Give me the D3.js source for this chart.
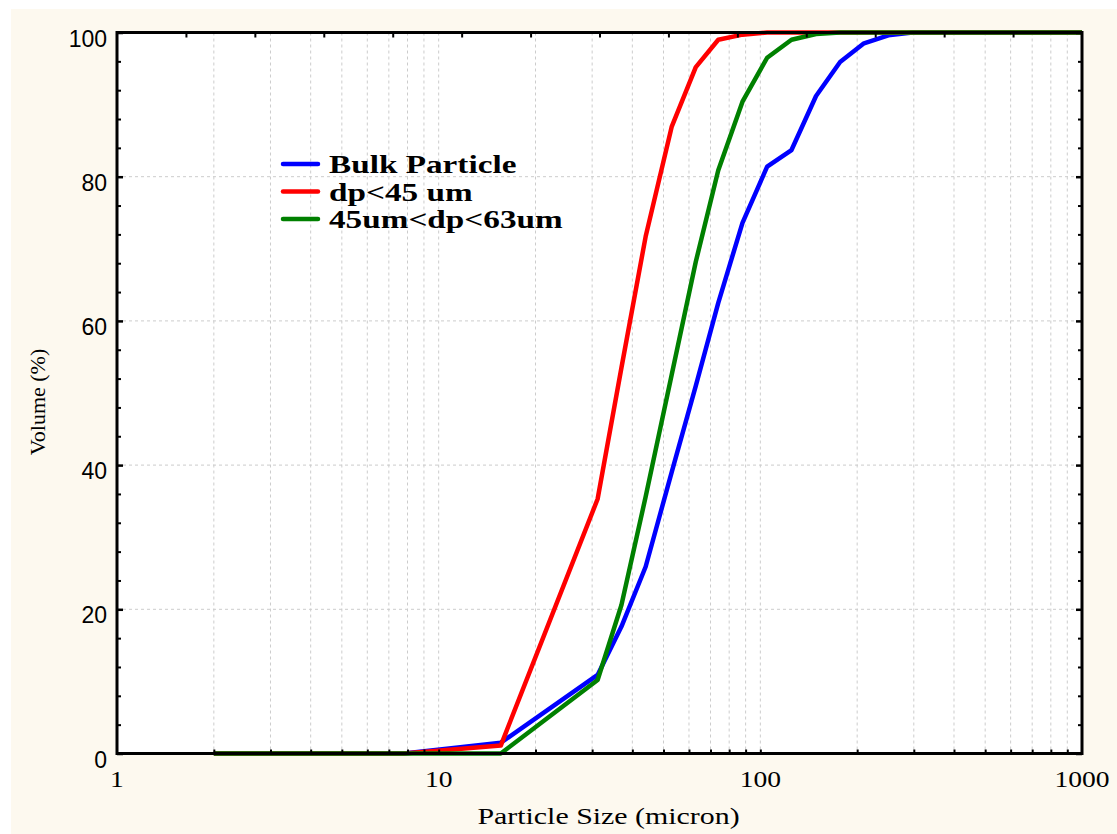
<!DOCTYPE html>
<html>
<head>
<meta charset="utf-8">
<script src="https://cdn.jsdelivr.net/npm/d3@7"></script>
<style>
  body { margin: 0; background: #fff; }
</style>
</head>
<body>
<div id="viz"></div>
<script>
// particle sizes (micron)
const sizes = [2, 3.9, 7.8, 15.6, 31.2, 37, 44, 53, 63, 74, 88, 105, 125, 149, 177, 210, 250, 297, 354, 420, 500, 595, 707, 841, 1000];

// cumulative volume (%)
const bulk  = [0, 0, 0, 1.5, 10.9, 17.6, 25.9, 39, 51, 62.5, 73.6, 81.4, 83.7, 91.2, 95.9, 98.5, 99.6, 100, 100, 100, 100, 100, 100, 100, 100];
const fine  = [0, 0, 0, 1.1, 35.3, 53.5, 71.7, 86.9, 95.2, 99, 99.7, 100, 100, 100, 100, 100, 100, 100, 100, 100, 100, 100, 100, 100, 100];
const mid   = [0, 0, 0, 0, 10.2, 20.6, 35.6, 52.5, 68.2, 80.9, 90.4, 96.5, 99, 99.8, 100, 100, 100, 100, 100, 100, 100, 100, 100, 100, 100];

const seriesNames = ["Bulk Particle", "dp<45 um", "45um<dp<63um"];
const seriesColors = ["#0000ff", "#ff0000", "#008000"];
const seriesValues = [bulk, fine, mid];

const xTicks = [1, 10, 100, 1000];
const yTicks = [0, 20, 40, 60, 80, 100];

const W = 1117, H = 834;
const margin = {left: 117, top: 32.5, right: 35, bottom: 80.5};
const w = W - margin.left - margin.right;
const h = H - margin.top - margin.bottom;

const svg = d3.select('#viz')
  .append('svg')
  .attr('width', W)
  .attr('height', H);

// cream page
svg.append('rect')
  .attr('x', 11).attr('y', 9)
  .attr('width', W - 11).attr('height', H - 9)
  .attr('fill', '#fdf9ef');

const g = svg.append('g')
  .attr('transform', `translate(${margin.left},${margin.top})`);

g.append('rect')
  .attr('width', w).attr('height', h)
  .attr('fill', '#fff');

const xScale = d3.scaleLog()
  .domain([1, 1000])
  .range([0, w]);

const yScale = d3.scaleLinear()
  .domain([0, 100])
  .range([h, 0]);

// minor log positions 2..9, 20..90, 200..900 plus 10, 100
const logMinor = xScale.ticks().filter(d => d > 1 && d < 1000);

//gridlines
g.selectAll('line.vgrid')
  .data(logMinor)
  .enter()
  .append('line')
  .classed('vgrid', true)
  .attr('x1', d => xScale(d)).attr('x2', d => xScale(d))
  .attr('y1', 0).attr('y2', h)
  .attr('stroke', '#cccccc')
  .attr('stroke-width', 1)
  .attr('stroke-dasharray', '3,3');

g.selectAll('line.hgrid')
  .data(yTicks.filter(d => d > 0 && d < 100))
  .enter()
  .append('line')
  .classed('hgrid', true)
  .attr('x1', 0).attr('x2', w)
  .attr('y1', d => yScale(d)).attr('y2', d => yScale(d))
  .attr('stroke', '#cccccc')
  .attr('stroke-width', 1)
  .attr('stroke-dasharray', '3,3');

// curves
const line = d3.line()
  .x((d, i) => xScale(sizes[i]))
  .y(d => yScale(d));

g.selectAll('path.curve')
  .data(seriesValues)
  .enter()
  .append('path')
  .classed('curve', true)
  .attr('d', line)
  .attr('fill', 'none')
  .attr('stroke', (d, i) => seriesColors[i])
  .attr('stroke-width', 4.5)
  .attr('stroke-linejoin', 'round');

// frame
g.append('rect')
  .attr('width', w).attr('height', h)
  .attr('fill', 'none')
  .attr('stroke', '#000')
  .attr('stroke-width', 3);

// axes with inward ticks
const yMinor = d3.range(0, 101, 4).filter(d => d % 20 !== 0);

g.append('g')
  .call(d3.axisLeft(yScale).tickValues(yTicks).tickSize(-6).tickFormat(''))
  .call(a => a.select('.domain').remove())
  .call(a => a.selectAll('line').attr('stroke-width', 2.5));
g.append('g')
  .call(d3.axisLeft(yScale).tickValues(yMinor).tickSize(-4).tickFormat(''))
  .call(a => a.select('.domain').remove())
  .call(a => a.selectAll('line').attr('stroke-width', 2));
g.append('g')
  .attr('transform', `translate(${w},0)`)
  .call(d3.axisRight(yScale).tickValues(yTicks).tickSize(-6).tickFormat(''))
  .call(a => a.select('.domain').remove())
  .call(a => a.selectAll('line').attr('stroke-width', 2.5));
g.append('g')
  .attr('transform', `translate(${w},0)`)
  .call(d3.axisRight(yScale).tickValues(yMinor).tickSize(-4).tickFormat(''))
  .call(a => a.select('.domain').remove())
  .call(a => a.selectAll('line').attr('stroke-width', 2));

g.append('g')
  .attr('transform', `translate(0,${h})`)
  .call(d3.axisBottom(xScale).tickValues(logMinor).tickSize(-4).tickFormat(''))
  .call(a => a.select('.domain').remove())
  .call(a => a.selectAll('line').attr('stroke-width', 2));

// top axis: plain linear ticks
const topScale = d3.scaleLinear().domain([0, 14]).range([0, w]);
g.append('g')
  .call(d3.axisTop(topScale).tickValues(d3.range(1, 14)).tickSize(-5).tickFormat(''))
  .call(a => a.select('.domain').remove())
  .call(a => a.selectAll('line').attr('stroke-width', 2));

// y labels
g.selectAll('text.ylab')
  .data(yTicks)
  .enter()
  .append('text')
  .classed('ylab', true)
  .attr('x', -10)
  .attr('y', d => yScale(d) + 14)
  .attr('text-anchor', 'end')
  .attr('font-family', '"Liberation Sans", Arial, sans-serif')
  .attr('font-size', 23)
  .text(d => d);

// x labels
g.selectAll('text.xlab')
  .data(xTicks)
  .enter()
  .append('text')
  .classed('xlab', true)
  .attr('transform', d => `translate(${xScale(d)},${h + 33}) scale(1.2,1)`)
  .attr('text-anchor', 'middle')
  .attr('font-family', '"Liberation Serif", "Times New Roman", serif')
  .attr('font-size', 23)
  .text(d => d);

// axis titles
g.append('text')
  .attr('transform', `translate(${w / 2 + 9},${h + 70}) scale(1.3,1)`)
  .attr('text-anchor', 'middle')
  .attr('font-family', '"Liberation Serif", "Times New Roman", serif')
  .attr('font-size', 23)
  .text('Particle Size (micron)');

svg.append('text')
  .attr('transform', `translate(45,402) rotate(-90)`)
  .attr('text-anchor', 'middle')
  .attr('font-family', '"Liberation Serif", "Times New Roman", serif')
  .attr('font-size', 22)
  .text('Volume (%)');

// legend
const legend = svg.append('g')
  .attr('transform', 'translate(283,164)');

const items = legend.selectAll('g.item')
  .data(seriesNames)
  .enter()
  .append('g')
  .classed('item', true)
  .attr('transform', (d, i) => `translate(0,${i * 27.5})`);

items.append('line')
  .attr('x1', 0).attr('x2', 35)
  .attr('stroke', (d, i) => seriesColors[i])
  .attr('stroke-width', 4.5)
  .attr('stroke-linecap', 'round');

items.append('text')
  .attr('transform', 'translate(46,9) scale(1.33,1)')
  .attr('font-family', '"Liberation Serif", "Times New Roman", serif')
  .attr('font-weight', 'bold')
  .attr('font-size', 25)
  .text(d => d);
</script>
</body>
</html>
